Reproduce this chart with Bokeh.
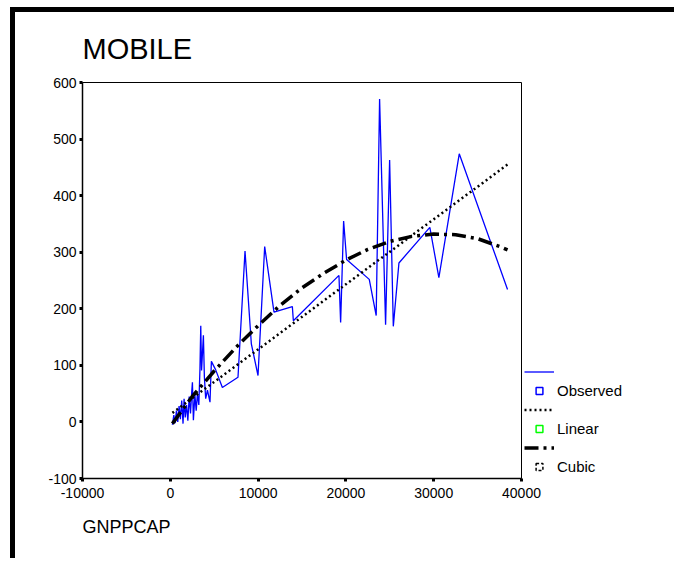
from bokeh.plotting import figure
from bokeh.models import (Range1d, FixedTicker, Legend, LegendItem, Title,
                          ColumnDataSource)
from bokeh.embed import file_html
from bokeh.resources import INLINE

# ---------------- data ----------------
obs_x = [240, 400, 550, 700, 850, 1000, 1150, 1300, 1450, 1570,
         1700, 1850, 2000, 2150, 2300, 2450, 2520, 2630, 2800, 2950,
         3090, 3250, 3380, 3470, 3560, 3770, 3880, 4030, 4230, 4520,
         4680, 5170, 5930, 7710, 8510, 9230, 9990, 10750, 11810, 13900,
         14015, 19210, 19400, 19740, 20080, 22660, 23450, 23838, 24520, 24980,
         25400, 26040, 29560, 30590, 32910, 38410]
obs_y = [-5, 12, -2, 20, 0, 28, 5, 38, -3, 41,
         8, 30, 2, 45, 15, 55, 70, 3, 48, 20,
         50, 30, 95, 170, 91, 153, 80, 41, 56, 35,
         107, 92, 61, 79, 302, 138, 82, 310, 194, 204,
         179, 259, 176, 355, 287, 252, 188, 571, 172, 463,
         169, 281, 344, 255, 474, 234]

linear_x = [240, 38410]
linear_y = [16, 455]

cubic_x = [240, 2500, 5000, 7500, 10000, 12500, 15000, 17500, 20000,
           22500, 25000, 27500, 30000, 32500, 35000, 37500, 38410]
cubic_y = [-3, 45, 90, 132, 170, 206, 237, 263, 286,
           305, 319, 328, 332, 331, 324, 310, 304]

x_ticks = [-10000, 0, 10000, 20000, 30000, 40000]
x_tick_labels = ["-10000", "0", "10000", "20000", "30000", "40000"]
y_ticks = [-100, 0, 100, 200, 300, 400, 500, 600]
y_tick_labels = ["-100", "0", "100", "200", "300", "400", "500", "600"]

series_names = ["Observed", "Linear", "Cubic"]

FONT = "Liberation Sans"

# ---------------- figure ----------------
p = figure(frame_width=439, frame_height=396, output_backend="svg",
           toolbar_location=None,
           x_range=Range1d(-10000, 40000), y_range=Range1d(-100, 600),
           min_border_left=67, min_border_right=150, min_border_top=70,
           min_border_bottom=80, title="MOBILE")
p.styles = {"margin-left": "10px", "margin-top": "7px",
            "border-left": "5px solid black", "border-top": "5px solid black",
            "border-right": "1px solid black"}
p.background_fill_color = "white"
p.border_fill_color = "white"
p.outline_line_color = "black"
p.outline_line_width = 1
p.xgrid.visible = False
p.ygrid.visible = False

p.title.text_font = FONT
p.title.text_font_size = "29px"
p.title.text_font_style = "normal"
p.title.text_color = "black"
p.title.align = "left"
p.title.standoff = 35

for ax in (p.xaxis[0], p.yaxis[0]):
    ax.axis_line_width = 1.5
    ax.axis_line_color = "black"
    ax.major_tick_line_width = 3
    ax.major_tick_out = 3
    ax.major_tick_in = 0
    ax.minor_tick_line_color = None
    ax.major_label_text_font = FONT
    ax.major_label_text_font_size = "14px"
    ax.major_label_text_color = "black"

p.xaxis[0].ticker = FixedTicker(ticks=x_ticks)
p.yaxis[0].ticker = FixedTicker(ticks=y_ticks)
p.xaxis[0].major_label_overrides = dict(zip(x_ticks, x_tick_labels))
p.yaxis[0].major_label_overrides = dict(zip(y_ticks, y_tick_labels))
p.xaxis[0].major_label_standoff = 6
p.yaxis[0].major_label_standoff = 3

p.add_layout(Title(text="GNPPCAP", align="left", text_font=FONT,
                   text_font_size="18px", text_font_style="normal",
                   text_color="black", standoff=28), "below")

# ---------------- series ----------------
r_obs = p.line(obs_x, obs_y, line_color="#0000ff", line_width=1.3)
r_lin = p.line(linear_x, linear_y, line_color="black", line_width=2.5,
               line_dash="2 3")
r_cub = p.line(cubic_x, cubic_y, line_color="black", line_width=3.5,
               line_dash="14 5 3 5")

# legend-only markers (their single point lies far outside the visible ranges)
offscreen = ColumnDataSource(data=dict(x=[-1e7], y=[-1e7]))
m_obs = p.scatter("x", "y", source=offscreen, marker="square", size=6,
                  fill_alpha=0, line_color="#0000ff", line_width=1.5)
m_lin = p.scatter("x", "y", source=offscreen, marker="square", size=6,
                  fill_alpha=0, line_color="#00ff00", line_width=1.5)
m_cub = p.scatter("x", "y", source=offscreen, marker="square", size=5,
                  fill_alpha=0, line_color="black", line_width=1.5,
                  line_dash="3 2")

legend = Legend(items=[LegendItem(label="", renderers=[r_obs]),
                       LegendItem(label=series_names[0], renderers=[m_obs]),
                       LegendItem(label="", renderers=[r_lin]),
                       LegendItem(label=series_names[1], renderers=[m_lin]),
                       LegendItem(label="", renderers=[r_cub]),
                       LegendItem(label=series_names[2], renderers=[m_cub])],
                location="bottom_left", orientation="vertical",
                border_line_color=None, background_fill_alpha=0,
                padding=0, margin=3, spacing=2,
                glyph_width=30, glyph_height=17, label_height=17,
                label_standoff=3,
                label_text_font=FONT, label_text_font_size="15px",
                label_text_color="black")
p.add_layout(legend, "right")

open("out.html", "w").write(file_html(p, INLINE))
